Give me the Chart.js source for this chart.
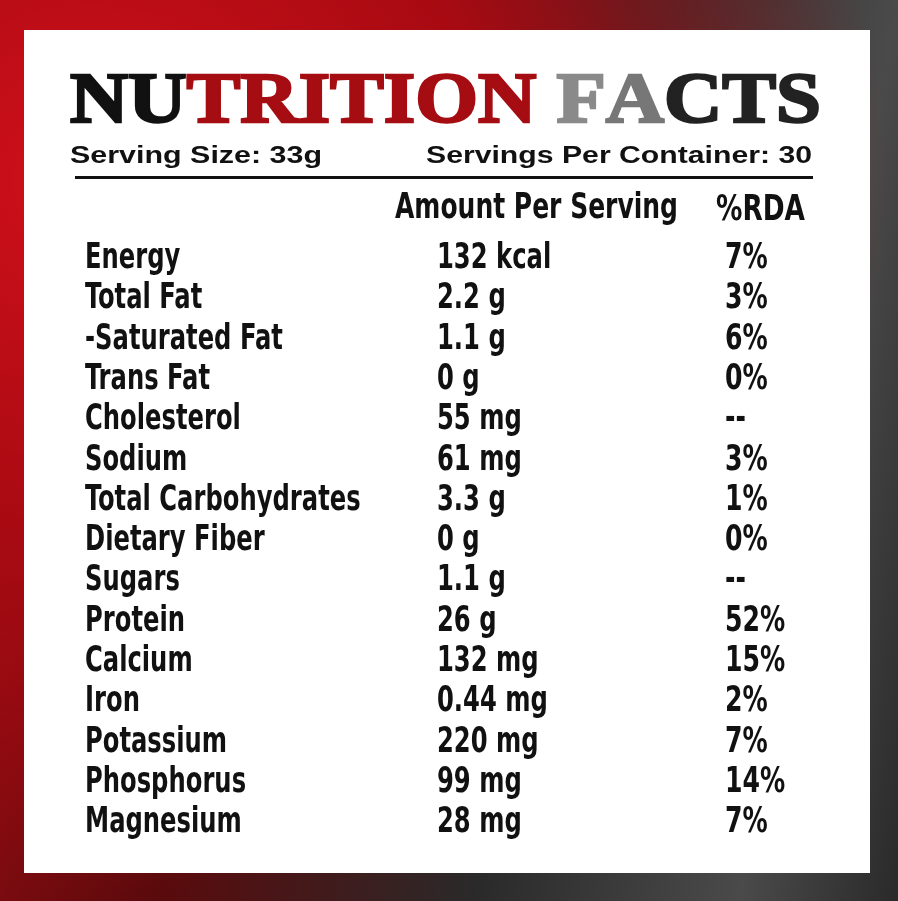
<!DOCTYPE html>
<html><head><meta charset="utf-8">
<script src="https://cdn.jsdelivr.net/npm/chart.js@4/dist/chart.umd.min.js"></script>
<style>
html,body{margin:0;padding:0;width:898px;height:901px;overflow:hidden;}
body{background:
 radial-gradient(ellipse at 10% 20%, #d0101a 0%, #a80a12 35%, rgba(60,10,10,0) 70%),
 linear-gradient(100deg,#9a0c12 0%,#5a0a0c 30%,#2a2a2a 60%,#4a4a4a 85%,#2a2a2a 100%);}
#w{position:absolute;left:0;top:0;width:898px;height:901px;}
</style></head><body>
<div id="w"><canvas id="c" width="898" height="901"></canvas></div>
<script>
const nutrients=["Energy","Total Fat","-Saturated Fat","Trans Fat","Cholesterol","Sodium","Total Carbohydrates","Dietary Fiber","Sugars","Protein","Calcium","Iron","Potassium","Phosphorus","Magnesium"];
const amounts=["132 kcal","2.2 g","1.1 g","0 g","55 mg","61 mg","3.3 g","0 g","1.1 g","26 g","132 mg","0.44 mg","220 mg","99 mg","28 mg"];
const rda=["7%","3%","6%","0%","--","3%","1%","0%","--","52%","15%","2%","7%","14%","7%"];
const titleParts=[["NU","#111"],["TRITION","#a50d12"],[" ","#111"],["F","#8a8a8a"],["A","#777"],["CTS","#222"]];
const servingSize="Serving Size: 33g";
const servingsPer="Servings Per Container: 30";
const headAmount="Amount Per Serving";
const headRda="%RDA";

const COND='bold 35px "Liberation Sans Narrow","DejaVu Sans Condensed",sans-serif';
function fitText(ctx,t,x,y,w){const m=ctx.measureText(t).width;ctx.save();ctx.translate(x,y);if(w&&m>0)ctx.scale(w/m,1);ctx.fillText(t,0,0);ctx.restore();}
function sText(ctx,t,x,y,s){ctx.save();ctx.translate(x,y);ctx.scale(s,1);ctx.fillText(t,0,0);ctx.restore();}
const panel={id:'panel',beforeDraw(ch){const c=ch.ctx;c.save();c.fillStyle='#fff';c.fillRect(24,30,846,843);c.restore();}};
const textPlug={id:'txt',afterDraw(ch){
 const c=ch.ctx, y=ch.scales.y;c.save();c.fillStyle='#111';
 c.font='bold 72px "Liberation Serif","DejaVu Serif",serif';c.textBaseline='alphabetic';
 const full=titleParts.map(p=>p[0]).join('');const tw=c.measureText(full).width;const sx=745/tw;
 c.save();c.translate(70,122);c.scale(sx,1.0);let x=0;c.lineWidth=2.5;
 for(const [t,col] of titleParts){c.fillStyle=col;c.strokeStyle=col;c.fillText(t,x,0);c.strokeText(t,x,0);x+=c.measureText(t).width;}
 c.restore();
 c.fillStyle='#111';c.font='bold 23px "Liberation Sans",Arial,sans-serif';c.textBaseline='middle';
 fitText(c,servingSize,70,157,252);fitText(c,servingsPer,426,157,386);
 c.fillRect(75,176,738,3);
 c.font=COND;
 fitText(c,headAmount,395,209,283);fitText(c,headRda,716,211,89);
 nutrients.forEach((n,i)=>{const py=y.getPixelForValue(i);
  sText(c,n,85,py,0.77);sText(c,amounts[i],437,py,0.77);sText(c,rda[i],725,py,0.8);});
 c.restore();}};
new Chart(document.getElementById('c'),{type:'bar',
 data:{labels:nutrients,datasets:[{data:nutrients.map(()=>0),backgroundColor:'rgba(0,0,0,0)'}]},
 options:{responsive:false,animation:false,indexAxis:'y',
  layout:{padding:{top:238.85,bottom:57.8,left:0,right:0}},
  plugins:{legend:{display:false},tooltip:{enabled:false}},
  scales:{y:{display:false,type:'category'},x:{display:false}}},
 plugins:[panel,textPlug]});
</script></body></html>
